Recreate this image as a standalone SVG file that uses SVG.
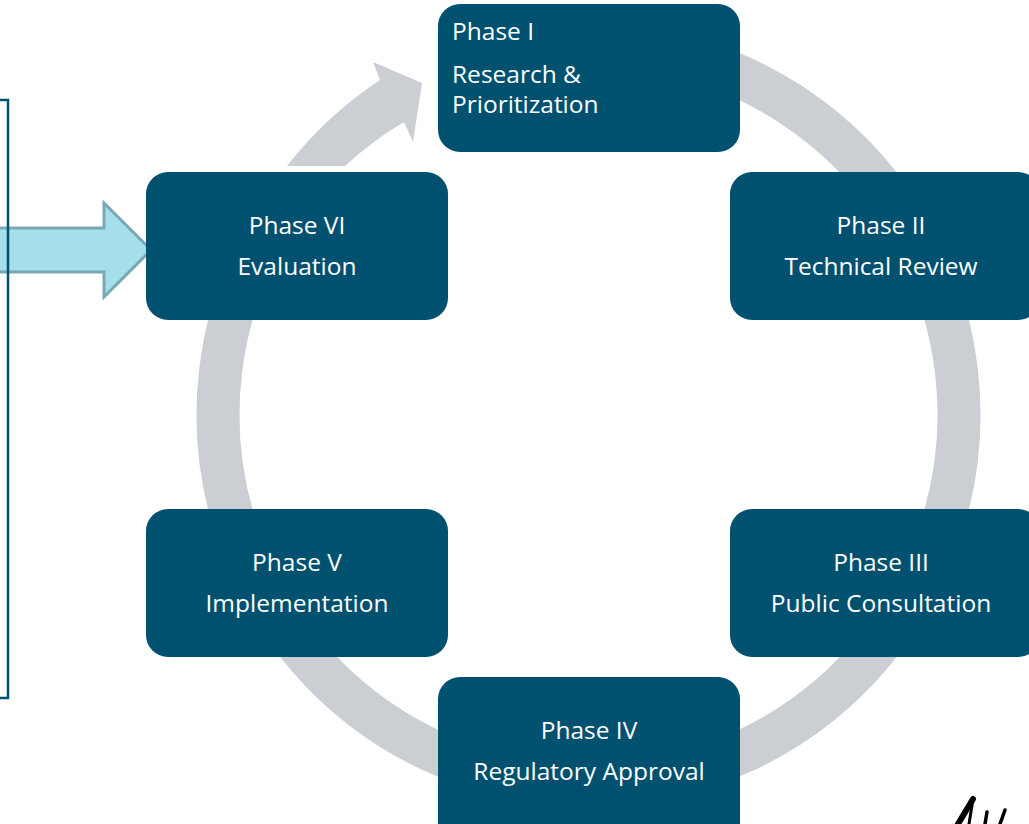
<svg xmlns="http://www.w3.org/2000/svg" width="1029" height="824" viewBox="0 0 1029 824">
<style>
.box{fill:#00516F}
.t{font-family:"Open Sans","Liberation Sans",sans-serif;font-size:24.5px;fill:#FFFFFF}
.c{text-anchor:middle}
</style>
<rect width="1029" height="824" fill="#FFFFFF"/>
<g id="connectors">
<path d="M 653 50 A 370.5 370.5 0 1 1 268 229" fill="none" stroke="#CBCFD3" stroke-width="43"/>
<path d="M 287 166 A 391 391 0 0 1 380 80 L 373 62 L 422 83 L 413 142 L 404 122 A 346 346 0 0 0 345 166 Z" fill="#CBCFD3"/>
<path d="M 0 228 L 104 228 L 104 203 L 151 250 L 104 297 L 104 272 L 0 272" fill="#A5DFEB" stroke="#7AA8B2" stroke-width="3"/>
<path d="M 0 100 L 8 100 L 8 698 L 0 698" fill="none" stroke="#00516F" stroke-width="2.5"/>
</g>
<g id="phase1"><rect class="box" x="438" y="4" width="302" height="148" rx="22"/>
<text class="t" x="452" y="40">Phase I</text><text class="t" x="452" y="83">Research &amp;</text><text class="t" x="452" y="113">Prioritization</text></g>
<g id="phase2"><rect class="box" x="730" y="172" width="310" height="148" rx="22"/>
<text class="t c" x="881" y="234">Phase II</text><text class="t c" x="881" y="275">Technical Review</text></g>
<g id="phase3"><rect class="box" x="730" y="509" width="310" height="148" rx="22"/>
<text class="t c" x="881" y="571">Phase III</text><text class="t c" x="881" y="612">Public Consultation</text></g>
<g id="phase4"><rect class="box" x="438" y="677" width="302" height="170" rx="22"/>
<text class="t c" x="589" y="739">Phase IV</text><text class="t c" x="589" y="780">Regulatory Approval</text></g>
<g id="phase5"><rect class="box" x="146" y="509" width="302" height="148" rx="22"/>
<text class="t c" x="297" y="571">Phase V</text><text class="t c" x="297" y="612">Implementation</text></g>
<g id="phase6"><rect class="box" x="146" y="172" width="302" height="148" rx="22"/>
<text class="t c" x="297" y="234">Phase VI</text><text class="t c" x="297" y="275">Evaluation</text></g>
<g id="mark" fill="none" stroke="#000000" stroke-linecap="round">
<path d="M 958 824 L 973 799" stroke-width="6"/>
<path d="M 973 799 L 969 824" stroke-width="3"/>
<path d="M 987 812 L 985 824" stroke-width="3.5"/>
<path d="M 1005 810 L 1000 824" stroke-width="3.5"/>
</g>
</svg>
